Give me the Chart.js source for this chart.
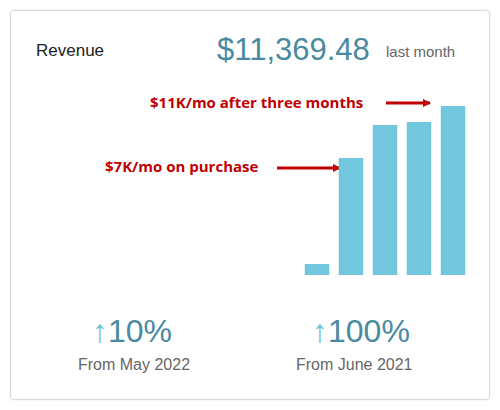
<!DOCTYPE html>
<html><head><meta charset="utf-8">
<script src="https://cdn.jsdelivr.net/npm/chart.js@4"></script>
<style>
body{margin:0;width:500px;height:410px;background:#fff;font-family:"Open Sans",sans-serif;position:relative;overflow:hidden}
.card{position:absolute;left:10px;top:10px;width:478px;height:388px;border:1px solid #d8d8d8;border-radius:4px;box-shadow:0 0 3px rgba(0,0,0,.08)}
.t{position:absolute;white-space:nowrap}
.ann{color:#c00000;font-weight:bold;font-size:15px}
</style></head><body>
<div class="card"></div>
<div class="t" style="left:36px;top:41px;font-size:17px;color:#222;font-family:'Liberation Sans',sans-serif">Revenue</div>
<div class="t" style="left:217px;top:32px;font-size:31px;color:#4a8aa0;font-family:'Liberation Sans',sans-serif">$11,369.48</div>
<div class="t" style="left:386px;top:43px;font-size:15px;color:#666;font-family:'Liberation Sans',sans-serif">last month</div>
<div class="t ann" style="left:150px;top:92px">$11K/mo after three months</div>
<div class="t ann" style="left:105px;top:156px">$7K/mo on purchase</div>
<svg style="position:absolute;left:0;top:0" width="500" height="410">
<defs><marker id="ah" markerWidth="8" markerHeight="8" refX="7" refY="4" orient="auto" markerUnits="userSpaceOnUse" viewBox="0 0 8 8"><path d="M0,0 L8,4 L0,8 Z" fill="#c00000"/></marker></defs>
<line x1="386" y1="103" x2="430" y2="103" stroke="#c00000" stroke-width="3" marker-end="url(#ah)"/>
<line x1="277" y1="168" x2="340" y2="168" stroke="#c00000" stroke-width="3" marker-end="url(#ah)"/>
</svg>
<div style="position:absolute;left:300px;top:80px;width:170px;height:195px"><canvas id="c"></canvas></div>
<div class="t" style="left:92px;top:313px;font-size:32px;color:#4a8aa0;font-family:'Liberation Sans',sans-serif"><span style="color:#6cc3dc">↑</span>10%</div>
<div class="t" style="left:78px;top:356px;font-size:16px;color:#666;font-family:'Liberation Sans',sans-serif">From May 2022</div>
<div class="t" style="left:312px;top:313px;font-size:32px;color:#4a8aa0;font-family:'Liberation Sans',sans-serif"><span style="color:#6cc3dc">↑</span>100%</div>
<div class="t" style="left:296px;top:356px;font-size:16px;color:#666;font-family:'Liberation Sans',sans-serif">From June 2021</div>
<script>
const months=["Feb","Mar","Apr","May","Jun"];
const revenue=[740,7870,10090,10290,11369.48];
new Chart(document.getElementById('c'),{type:'bar',
data:{labels:months,datasets:[{data:revenue,backgroundColor:'#72c6de',barPercentage:0.72,categoryPercentage:1}]},
options:{responsive:true,maintainAspectRatio:false,animation:false,layout:{padding:0},
plugins:{legend:{display:false},tooltip:{enabled:false}},
scales:{x:{display:false},y:{display:false,min:0,max:11369.48*195/169}}}});
</script>
</body></html>
